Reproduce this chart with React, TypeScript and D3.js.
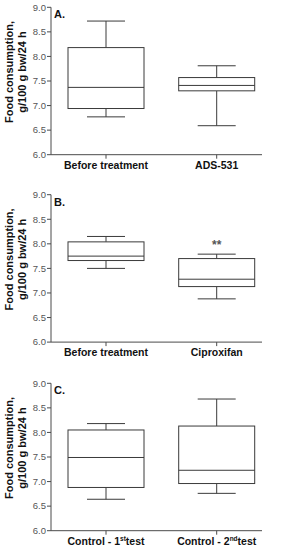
import React from 'react';
import * as d3 from 'd3';

// box stats per group: [low whisker, Q1, median, Q3, high whisker]
const panelLetters = ['A.', 'B.', 'C.'];

const groupsA = ['Before treatment', 'ADS-531'];
const statsA = [
  [6.77, 6.94, 7.37, 8.18, 8.72],
  [6.59, 7.30, 7.41, 7.57, 7.81],
];

const groupsB = ['Before treatment', 'Ciproxifan'];
const statsB = [
  [7.50, 7.66, 7.75, 8.04, 8.15],
  [6.88, 7.13, 7.28, 7.70, 7.79],
];
const markB = ['', '**'];

const groupsC = ['Control - 1st test', 'Control - 2nd test'];
const statsC = [
  [6.64, 6.88, 7.49, 8.05, 8.18],
  [6.76, 6.96, 7.23, 8.13, 8.68],
];

const yTicks = [6.0, 6.5, 7.0, 7.5, 8.0, 8.5, 9.0];

const FONT = 'Liberation Sans, Arial, sans-serif';
const AXIS = '#4a4a4a';
const BOX = '#3a3a3a';

const panels = [
  { letter: panelLetters[0], groups: groupsA, stats: statsA, marks: ['', ''], top: 7.3 },
  { letter: panelLetters[1], groups: groupsB, stats: statsB, marks: markB, top: 194.7 },
  { letter: panelLetters[2], groups: groupsC, stats: statsC, marks: ['', ''], top: 383.3 },
];

const PLOT_H = 147.4;
const AXIS_X = 51;
const AXIS_END = 262;
const BOX_W = 76;

function Label({ text }: { text: string }) {
  // superscript ordinal ("1st", "2nd")
  const m = text.match(/^(.*\d)(st|nd|rd|th) (.*)$/);
  if (!m) return <>{text}</>;
  return (
    <>
      {m[1]}
      <tspan fontSize={6.5} dy={-4}>{m[2]}</tspan>
      <tspan dy={4}>{m[3]}</tspan>
    </>
  );
}

function Panel({ p }: { p: typeof panels[number] }) {
  const y = d3.scaleLinear().domain([6, 9]).range([p.top + PLOT_H, p.top]);
  const x = d3.scalePoint<string>().domain(p.groups).range([AXIS_X + 55, AXIS_X + 165.7]);
  const yMid = (y(6) + y(9)) / 2 - 9;
  return (
    <g>
      {/* y axis title */}
      <text transform={`translate(13,${yMid}) rotate(-90)`} textAnchor="middle"
        fontFamily={FONT} fontWeight="bold" fontSize={11} fill="#111">Food consumption,</text>
      <text transform={`translate(26,${yMid}) rotate(-90)`} textAnchor="middle"
        fontFamily={FONT} fontWeight="bold" fontSize={11} fill="#111">g/100 g bw/24 h</text>

      {/* y axis */}
      <line x1={AXIS_X} x2={AXIS_X} y1={y(9)} y2={y(6)} stroke={AXIS} strokeWidth={1} />
      {yTicks.map(t => (
        <g key={t}>
          <line x1={AXIS_X - 4} x2={AXIS_X} y1={y(t)} y2={y(t)} stroke={AXIS} />
          <text x={AXIS_X - 5} y={y(t)} dy="0.35em" textAnchor="end"
            fontFamily={FONT} fontSize={9.5} fill="#555">{d3.format('.1f')(t)}</text>
        </g>
      ))}

      {/* x axis */}
      <line x1={AXIS_X} x2={AXIS_END} y1={y(6)} y2={y(6)} stroke={AXIS} />
      {p.groups.map(g => (
        <g key={g}>
          <line x1={x(g)} x2={x(g)} y1={y(6)} y2={y(6) + 4} stroke={AXIS} />
          <text x={x(g)} y={y(6) + 14} textAnchor="middle" fontFamily={FONT}
            fontWeight="bold" fontSize={10.5} fill="#111"><Label text={g} /></text>
        </g>
      ))}

      <text x={AXIS_X + 3} y={y(9) + 11} fontFamily={FONT} fontWeight="bold"
        fontSize={11} fill="#111">{p.letter}</text>

      {/* boxes */}
      {p.groups.map((g, i) => {
        const [lo, q1, med, q3, hi] = p.stats[i];
        const cx = x(g) as number;
        return (
          <g key={g} stroke={BOX} strokeWidth={1} fill="none">
            <line x1={cx} x2={cx} y1={y(hi)} y2={y(q3)} />
            <line x1={cx} x2={cx} y1={y(q1)} y2={y(lo)} />
            <line x1={cx - BOX_W / 4} x2={cx + BOX_W / 4} y1={y(hi)} y2={y(hi)} />
            <line x1={cx - BOX_W / 4} x2={cx + BOX_W / 4} y1={y(lo)} y2={y(lo)} />
            <rect x={cx - BOX_W / 2} y={y(q3)} width={BOX_W} height={y(q1) - y(q3)} fill="#fff" />
            <line x1={cx - BOX_W / 2} x2={cx + BOX_W / 2} y1={y(med)} y2={y(med)} />
            {p.marks[i] && (
              <text x={cx} y={y(hi) - 5} textAnchor="middle" stroke="none" fill="#555"
                fontFamily={FONT} fontWeight="bold" fontSize={12}>{p.marks[i]}</text>
            )}
          </g>
        );
      })}
    </g>
  );
}

export default function App() {
  return (
    <svg width={281} height={550} style={{ position: 'absolute', left: 0, top: 0, background: '#fff' }}>
      <rect width={281} height={550} fill="#fff" />
      {panels.map(p => <Panel key={p.letter} p={p} />)}
    </svg>
  );
}
